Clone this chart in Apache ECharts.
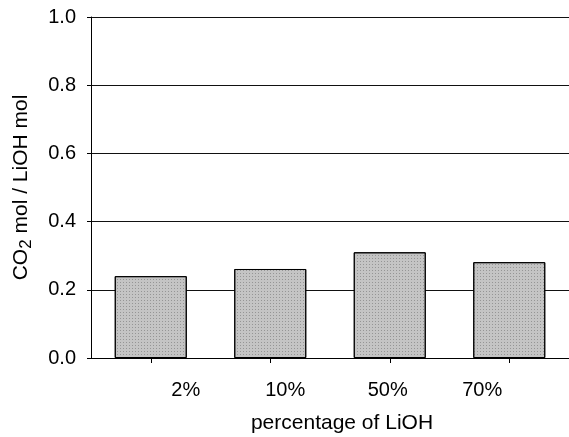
<!DOCTYPE html>
<html>
<head>
<meta charset="utf-8">
<script src="https://cdn.jsdelivr.net/npm/echarts@6/dist/echarts.min.js"></script>
<style>
html,body{margin:0;padding:0;background:#fff;}
#c{width:569px;height:437px;}
</style>
</head>
<body>
<div id="c"></div>
<script>
const categories = ['2%', '10%', '50%', '70%'];
const values = [0.24, 0.261, 0.31, 0.281];
const yTicks = [0.0, 0.2, 0.4, 0.6, 0.8, 1.0];
const xName = 'percentage of LiOH';

const FONT = '"Liberation Sans", Arial, sans-serif';
const labelShift = [35, 15, -2, -27];
const rich = {};
categories.forEach((c, i) => {
  const d = labelShift[i];
  rich['c' + i] = {
    fontSize: 20, fontFamily: FONT, color: '#000',
    padding: d >= 0 ? [0, 0, 0, 2 * d] : [0, -2 * d, 0, 0]
  };
});

const chart = echarts.init(document.getElementById('c'), null, {renderer: 'canvas'});
chart.setOption({
  animation: false,
  backgroundColor: '#fff',
  grid: {left: 91, top: 17, right: 0, bottom: 79, containLabel: false, outerBoundsMode: 'none'},
  xAxis: {
    type: 'category',
    data: categories,
    boundaryGap: true,
    axisLine: {lineStyle: {color: '#000', width: 1}},
    axisTick: {show: true, alignWithLabel: true, length: 5, lineStyle: {color: '#000'}},
    axisLabel: {
      margin: 22,
      formatter: (v, i) => '{c' + i + '|' + v + '}',
      rich: rich
    },
    name: xName,
    nameLocation: 'middle',
    nameGap: 55,
    nameTextStyle: {fontSize: 21, fontFamily: FONT, color: '#000', padding: [0, 0, 0, 24]}
  },
  yAxis: {
    type: 'value',
    min: 0, max: 1, interval: 0.2,
    axisLine: {show: true, lineStyle: {color: '#000', width: 1}},
    axisTick: {show: true, length: 4, lineStyle: {color: '#000'}},
    axisLabel: {
      margin: 15, fontSize: 20, fontFamily: FONT, color: '#000',
      formatter: v => yTicks.find(t => Math.abs(t - v) < 1e-9).toFixed(1)
    },
    splitLine: {show: true, lineStyle: {color: '#111', width: 1.2}},
    name: '{m|CO}{s|2}{m| mol / LiOH mol}',
    nameLocation: 'middle',
    nameRotate: 90,
    nameGap: 58,
    nameTextStyle: {
      rich: {
        m: {fontSize: 21, fontFamily: FONT, color: '#000', lineHeight: 24},
        s: {fontSize: 17, fontFamily: FONT, color: '#000', lineHeight: 24, padding: [10, 0, 0, 0]}
      }
    }
  },
  series: [{
    type: 'bar',
    data: values,
    barWidth: 72,
    itemStyle: {
      color: '#c4c4c4',
      borderColor: '#000',
      borderWidth: 1,
      decal: {
        symbol: 'rect', symbolSize: 1, color: 'rgba(80,80,80,0.4)',
        dashArrayX: [1, 2], dashArrayY: [1, 2], rotation: 0
      }
    }
  }]
});
</script>
</body>
</html>
